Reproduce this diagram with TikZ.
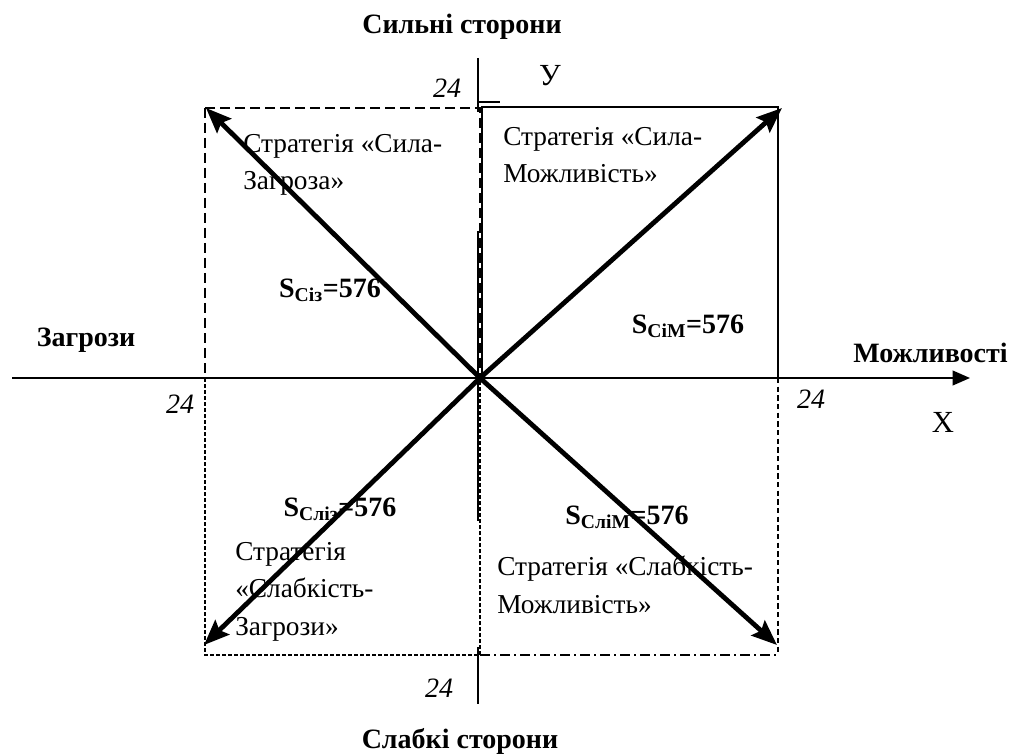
\documentclass[tikz,border=0pt]{standalone}
\usepackage{fontspec}
\setmainfont{Liberation Serif}
\usepackage{tikz}
\usetikzlibrary{arrows.meta, positioning}
\tikzstyle{arrow}=[-{Stealth[length=19pt, width=15pt, inset=3pt]}, line width=3.6pt, color=black]
\tikzstyle{axis}=[line width=1.4pt, color=black]
\tikzstyle{quad}=[line width=1.1pt, color=black]
\tikzstyle{strat}=[align=left, anchor=north west, inner sep=0pt, font=\fontsize{20.5}{28}\selectfont]
\tikzstyle{side}=[inner sep=0pt, font=\fontsize{21}{25}\selectfont\bfseries]
\tikzstyle{num}=[inner sep=0pt, font=\fontsize{21}{25}\selectfont\itshape]
\tikzstyle{area}=[inner sep=0pt, font=\fontsize{21}{25}\selectfont\bfseries]
\tikzstyle{axlab}=[inner sep=0pt, font=\fontsize{23}{27}\selectfont]

\begin{document}
\begin{tikzpicture}[x=0.75pt, y=-0.75pt]
  \useasboundingbox (0,0) rectangle (1016,755);
  % corners
  \coordinate (O)  at (480,378);
  \coordinate (NW) at (206,108);
  \coordinate (NE) at (782,108);
  \coordinate (SW) at (204,645);
  \coordinate (SE) at (777,645);
  \coordinate (xs) at (12,378);
  \coordinate (xe) at (970,378);

  % quadrants
  \draw[quad, dash pattern=on 7.5pt off 3.75pt] (205,108) rectangle (480,378);
  \draw[quad] (482,107) rectangle (778,378);
  \draw[quad, dash pattern=on 3pt off 1.5pt] (205,378) rectangle (480,655);
  \draw[quad, dash pattern=on 7.5pt off 3pt on 1.5pt off 3pt] (480,655) -- (778,655);
  \draw[quad, dash pattern=on 4pt off 2.5pt] (778,378) -- (778,655);

  % axes
  \draw[axis, -{Triangle[length=13pt, width=11pt]}] (xs) -- (xe);
  \foreach \ya/\yb in {58/112, 231/521, 647/704}
    \draw[axis] (478,\ya) -- (478,\yb);
  \draw[axis] (478,102) -- (500,102);

  % labels
  \node[side] (strong) at (462,27) {Сильні сторони};
  \node[side] (weak) at (460,741) {Слабкі сторони};
  \node[side] (threat) at (86,340) {Загрози};
  \node[side, anchor=west] (opport) at (853,353) {Можливості};
  \node[axlab] (ylab) at (550,76) {У};
  \node[axlab] (xlab) at (943,422) {X};
  \node[num] (ntop) at (447,88) {24};
  \node[num] (nleft) at (180,404) {24};
  \node[num] (nright) at (811,399) {24};
  \node[num] (nbot) at (439,688) {24};

  \node[strat] (sz) at (243,134) {Стратегія «Сила-\\Загроза»};
  \node[strat] (sm) at (503,127) {Стратегія «Сила-\\Можливість»};
  \node[strat] (wz) at (235,542) {Стратегія\\«Слабкість-\\Загрози»};
  \node[strat] (wm) at (497,556) {Стратегія «Слабкість-\\Можливість»};

  \node[area] (asz) at (330,290) {S\textsubscript{Сіз}=576};
  \node[area] (asm) at (688,326) {S\textsubscript{СіМ}=576};
  \node[area] (awz) at (340,509) {S\textsubscript{Сліз}=576};
  \node[area] (awm) at (627,517) {S\textsubscript{СліМ}=576};

  % strategy arrows
  \foreach \c in {NW, NE, SW, SE}
    \draw[arrow] (O) -- (\c);
\end{tikzpicture}
\end{document}
